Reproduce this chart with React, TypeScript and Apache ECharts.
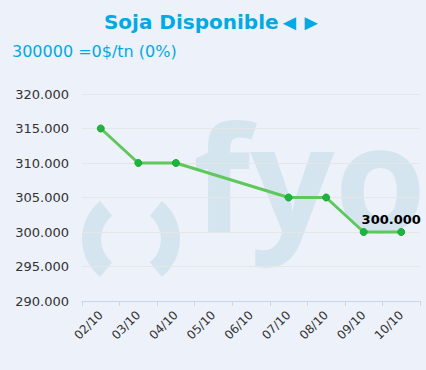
import React, { useEffect, useRef } from "react";
import * as echarts from "echarts";

const categories = ["02/10", "03/10", "04/10", "05/10", "06/10", "07/10", "08/10", "09/10", "10/10"];
const prices: (number | null)[] = [315000, 310000, 310000, null, null, 305000, 305000, 300000, 300000];
const titleMain = "Soja Disponible";
const titleArrows = "◄►";
const subtitleText = "300000 =0$/tn (0%)";
const yMin = 290000;
const yMax = 320000;
const yStep = 5000;

const fmt = (v: number) => Math.round(v).toString().replace(/\B(?=(\d{3})+(?!\d))/g, ".");

export default function App() {
  const ref = useRef<HTMLDivElement>(null);
  useEffect(() => {
    document.body.style.margin = "0";
    const chart = echarts.init(ref.current!, null, { renderer: "svg" });
    const deg = Math.PI / 180;
    const wm = "#d4e5f0";
    const lastIdx = prices.length - 1;
    const wmSize = 148;
    chart.setOption({
      animation: false,
      backgroundColor: "#edf1f9",
      title: [
        {
          text: `{a|${titleMain}}{b|${titleArrows}}`,
          left: "center",
          top: 5,
          textStyle: {
            rich: {
              a: { fontFamily: "DejaVu Sans", fontSize: 20, lineHeight: 24, fontWeight: "bold", color: "#02a9e3" },
              b: { fontFamily: "Liberation Sans", fontSize: 22, lineHeight: 24, fontWeight: "bold", color: "#02a9e3" },
            },
          },
        },
        {
          text: subtitleText,
          left: 7,
          top: 38,
          textStyle: { fontFamily: "DejaVu Sans", fontSize: 16, fontWeight: "normal", color: "#02a9e3" },
        },
      ],
      graphic: [
        {
          type: "sector",
          z: -10,
          silent: true,
          shape: { cx: 131, cy: 239, r0: 30, r: 49, startAngle: 129 * deg, endAngle: 231 * deg, clockwise: true },
          style: { fill: wm },
        },
        {
          type: "sector",
          z: -10,
          silent: true,
          shape: { cx: 131, cy: 239, r0: 30, r: 49, startAngle: -51 * deg, endAngle: 51 * deg, clockwise: true },
          style: { fill: wm },
        },
        {
          type: "text",
          z: -10,
          silent: true,
          x: 193,
          y: 236 - 0.41 * wmSize,
          style: { text: "fyo", fill: wm, font: `bold ${wmSize}px 'Open Sans'`, verticalAlign: "middle", align: "left" },
        },
      ],
      grid: { left: 82, right: 6, top: 94, bottom: 69 },
      xAxis: {
        type: "category",
        data: categories,
        boundaryGap: true,
        axisLine: { show: true, lineStyle: { color: "#ccd6eb" } },
        axisTick: { show: true, length: 5, lineStyle: { color: "#ccd6eb" } },
        axisLabel: { rotate: 45, fontFamily: "DejaVu Sans", fontSize: 12, color: "#333333", margin: 12, interval: 0 },
        splitLine: { show: false },
      },
      yAxis: {
        type: "value",
        min: yMin,
        max: yMax,
        interval: yStep,
        axisLine: { show: false },
        axisTick: { show: false },
        axisLabel: { fontFamily: "DejaVu Sans", fontSize: 13, color: "#333333", margin: 13, formatter: (v: number) => fmt(v) },
        splitLine: { show: true, lineStyle: { color: "#e6e6e6", width: 1 } },
      },
      series: [
        {
          type: "line",
          data: prices.map((v, i) =>
            i === lastIdx
              ? {
                  value: v,
                  label: {
                    show: true,
                    position: "top",
                    offset: [-10, 0],
                    distance: 2,
                    formatter: (p: any) => fmt(p.value),
                    fontFamily: "DejaVu Sans",
                    fontSize: 13,
                    fontWeight: "bold",
                    color: "#000000",
                  },
                }
              : v
          ),
          connectNulls: true,
          symbol: "circle",
          symbolSize: 7,
          showAllSymbol: true,
          lineStyle: { color: "#5ec85a", width: 3 },
          itemStyle: { color: "#1db53e", borderColor: "#1aa838", borderWidth: 1 },
        },
      ],
    });
    return () => chart.dispose();
  }, []);
  return <div ref={ref} style={{ position: "absolute", left: 0, top: 0, width: 426, height: 370 }} />;
}
